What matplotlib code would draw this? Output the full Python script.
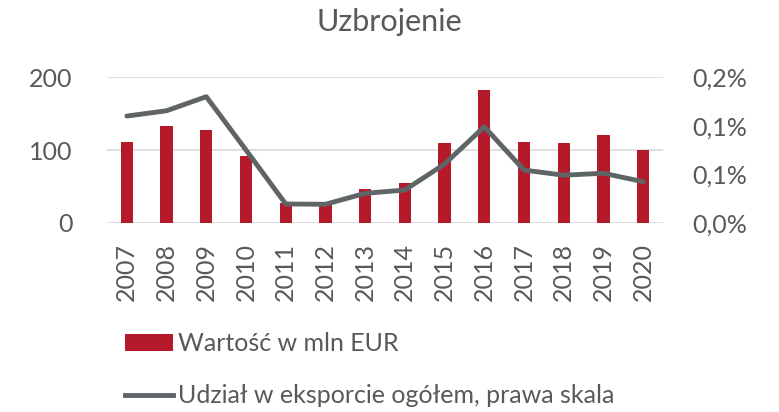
import matplotlib
matplotlib.use("Agg")
import matplotlib.pyplot as plt
from matplotlib.lines import Line2D
from matplotlib.patches import Patch

years = ["2007", "2008", "2009", "2010", "2011", "2012", "2013",
         "2014", "2015", "2016", "2017", "2018", "2019", "2020"]
value_mln_eur = [111, 133, 127, 92, 27, 25, 46, 54, 109, 183, 111, 110, 121, 100]
share_pct = [0.110, 0.1155, 0.130, 0.075, 0.0193, 0.019, 0.0303, 0.0337,
             0.0605, 0.099, 0.0543, 0.049, 0.051, 0.0423]
left_ticks = [0, 100, 200]
right_ticks = [0.0, 0.05, 0.10, 0.15]
right_tick_labels = ["0,0%", "0,1%", "0,1%", "0,2%"]
title = "Uzbrojenie"
bar_label = "Wartość w mln EUR"
line_label = "Udział w eksporcie ogółem, prawa skala"

BAR = "#b41a2a"
LINE = "#5f6567"
TXT = "#595959"
GRID = "#d9d9d9"
FS = 18

plt.rcParams['font.family'] = ['Lato', 'DejaVu Sans']

fig = plt.figure(figsize=(7.79, 4.12), dpi=100)
ax = fig.add_axes([107/779, 1-222.7/412, (663-107)/779, (222.7-77.3)/412])
x = list(range(len(years)))
ax.bar(x, value_mln_eur, width=0.31, color=BAR, zorder=2)
ax.set_xlim(-0.5, len(years)-0.5)
ax.set_ylim(0, 200)
ax.set_yticks(left_ticks)
ax.set_yticklabels([str(v) for v in left_ticks])
ax.set_xticks(x)
ax.set_xticklabels(years, rotation=90)
for yv in left_ticks:
    ax.axhline(yv, color=GRID, lw=1.2, zorder=1)
for s in ax.spines.values():
    s.set_visible(False)
ax.tick_params(axis='y', length=0, pad=25, labelsize=FS, labelcolor=TXT)
ax.tick_params(axis='x', length=0, pad=14.5, labelsize=FS, labelcolor=TXT)

ax2 = ax.twinx()
ax2.plot(x, share_pct, color=LINE, lw=3.5, solid_capstyle='round', zorder=3)
ax2.set_ylim(0, 0.15)
ax2.set_yticks(right_ticks)
ax2.set_yticklabels(right_tick_labels)
for s in ax2.spines.values():
    s.set_visible(False)
ax2.tick_params(axis='y', length=0, pad=21, labelsize=FS, labelcolor=TXT)

fig.text(0.5, 1-22/412, title, ha='center', va='center', fontsize=22, color=TXT)

handles = [Patch(facecolor=BAR, edgecolor='none'),
           Line2D([0], [0], color=LINE, lw=3.5)]
leg = fig.legend(handles, [bar_label, line_label], loc='upper left',
                 bbox_to_anchor=(125/779, 1-332/412), frameon=False,
                 fontsize=FS, labelcolor=TXT, handlelength=1.9, handleheight=0.65,
                 handletextpad=0.2, labelspacing=1.17, borderaxespad=0,
                 borderpad=0)

fig.savefig("out.png", dpi=100)
